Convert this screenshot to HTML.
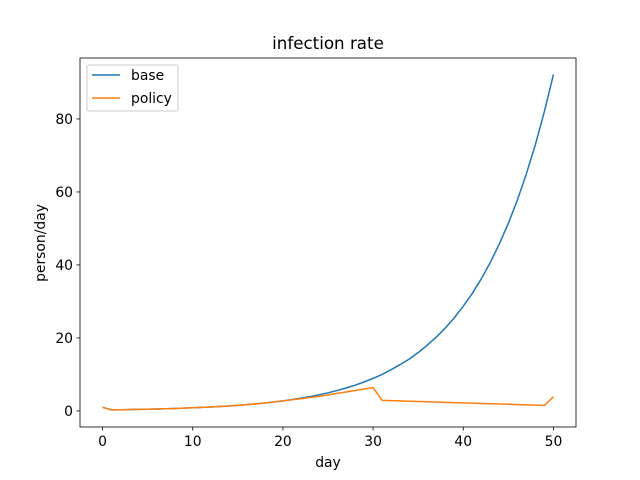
<!DOCTYPE html>
<html><head><meta charset="utf-8"><style>
body{margin:0;background:#fff}
svg{display:block;font-family:"DejaVu Sans","Liberation Sans",sans-serif}
</style></head><body>
<svg id="chart" width="640" height="480" xmlns="http://www.w3.org/2000/svg"></svg>
<script>
const days = Array.from({length:51},(_,i)=>i);
const baseValues = [1.0,0.30,0.337,0.379,0.426,0.479,0.538,0.605,0.68,0.764,0.859,0.966,1.086,1.22,1.37,1.54,1.73,1.95,2.19,2.46,2.77,3.11,3.50,3.93,4.42,4.97,5.59,6.28,7.06,7.93,8.92,10.0,11.3,12.7,14.2,16.0,18.0,20.2,22.7,25.5,28.7,32.2,36.2,40.7,45.8,51.4,57.8,65.0,73.0,82.1,92.2];
const policyValues = [1.0,0.30,0.337,0.379,0.426,0.479,0.538,0.605,0.68,0.764,0.859,0.966,1.086,1.22,1.37,1.54,1.73,1.95,2.19,2.46,2.77,3.05,3.35,3.7,4.0,4.4,4.8,5.2,5.6,6.0,6.4,2.9,2.82,2.75,2.67,2.59,2.51,2.44,2.36,2.28,2.2,2.13,2.05,1.97,1.89,1.82,1.74,1.66,1.58,1.5,3.9];
const xTicks = [0,10,20,30,40,50];
const yTicks = [0,20,40,60,80];

const NS="http://www.w3.org/2000/svg";
const svg=document.getElementById('chart');
const L=80,R=576,T=58,B=427;
const xMin=-2.5,xMax=52.5,yMin=-4.4,yMax=96.7;
const xs=v=>L+(v-xMin)/(xMax-xMin)*(R-L);
const ys=v=>B-(v-yMin)/(yMax-yMin)*(B-T);
function mk(tag,attrs,parent){const e=document.createElementNS(NS,tag);for(const k in attrs)e.setAttribute(k,attrs[k]);(parent||svg).appendChild(e);return e;}

function line(vals,color,name){
  const d=vals.map((v,i)=>(i?'L':'M')+xs(days[i]).toFixed(2)+','+ys(v).toFixed(2)).join('');
  const p=mk('path',{d:d,fill:'none',stroke:color,'stroke-width':1.5,'stroke-linejoin':'round'});
  
  
}
line(baseValues,'#1f77b4','base-line');
line(policyValues,'#ff7f0e','policy-line');

const frame=mk('rect',{x:L,y:T,width:R-L,height:B-T,fill:'none',stroke:'#000','stroke-width':0.8});



xTicks.forEach(t=>{
  const x=xs(t);
  const tk=mk('line',{x1:x,x2:x,y1:B,y2:B+3.5,stroke:'#000','stroke-width':0.8});
  
  
  const tx=mk('text',{x:x,y:B+19,'text-anchor':'middle','font-size':13.9,fill:'#000'});
  tx.textContent=t;
  
  
});
yTicks.forEach(t=>{
  const y=ys(t);
  const tk=mk('line',{x1:L-3.5,x2:L,y1:y,y2:y,stroke:'#000','stroke-width':0.8});
  
  
  const tx=mk('text',{x:L-7,y:y+5,'text-anchor':'end','font-size':13.9,fill:'#000'});
  tx.textContent=t;
  
  
});
</script>
<svg style="position:absolute;left:0;top:0" width="640" height="480" xmlns="http://www.w3.org/2000/svg" font-family="DejaVu Sans, Liberation Sans, sans-serif">
<text x="328" y="49" text-anchor="middle" font-size="16.7">infection rate</text>
<text x="328" y="467" text-anchor="middle" font-size="13.9">day</text>
<text x="45" y="243" text-anchor="middle" font-size="13.9" transform="rotate(-90 45 243)">person/day</text>
<g>
<rect x="87" y="65" width="91" height="46" rx="2" fill="#fff" fill-opacity="0.8" stroke="#ccc" stroke-width="1"/>
<line x1="92" x2="120" y1="75" y2="75" stroke="#1f77b4" stroke-width="1.5"/>
<text x="131" y="80" font-size="13.9">base</text>
<line x1="92" x2="120" y1="98" y2="98" stroke="#ff7f0e" stroke-width="1.5"/>
<text x="131" y="103" font-size="13.9">policy</text>
</g>
</svg>
</body></html>
